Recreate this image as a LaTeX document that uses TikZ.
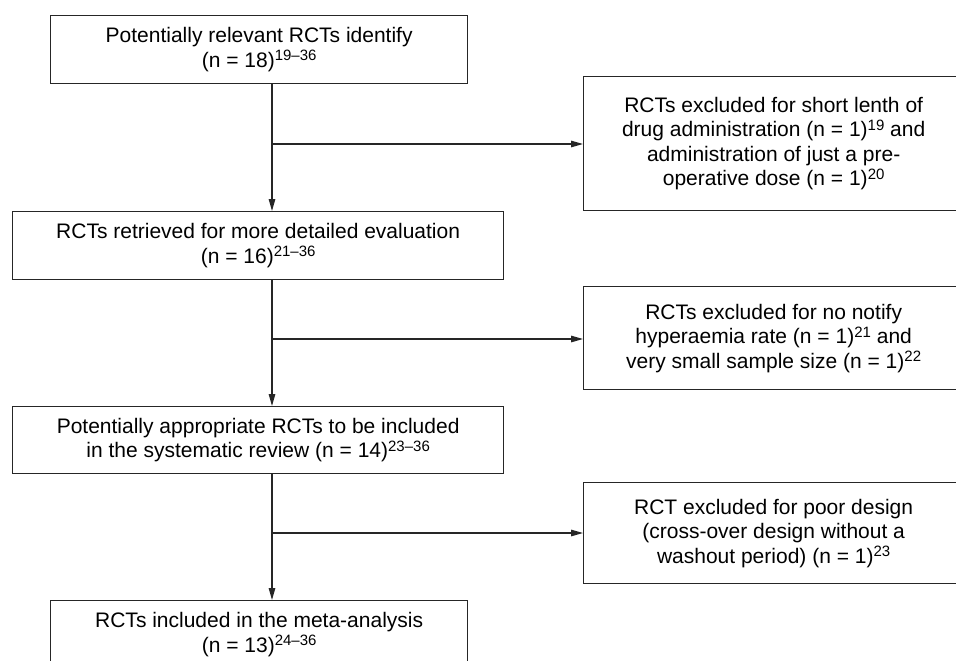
\documentclass[tikz,border=0pt]{standalone}
\usepackage{fontspec}
\setmainfont{Liberation Sans}
\usetikzlibrary{arrows.meta}
\newcommand\supnum[1]{\raisebox{6.5pt}{\fontsize{15}{15}\selectfont #1}}
\begin{document}
\begin{tikzpicture}[x=1pt,y=-1pt,
  box/.style={draw=black!85, line width=1.3pt, rectangle, inner sep=0pt, align=center,
    anchor=north west, font=\fontsize{21}{24.5}\selectfont},
  arr/.style={draw=black!85, line width=1.3pt, -{Triangle[length=12pt,width=6.5pt]}}]
\clip (0,0) rectangle (956,661);
\fill[white] (0,0) rectangle (956,661);
% left column
\node[box, minimum width=417pt, minimum height=68pt] (b1) at (50,15)
  {Potentially relevant RCTs identify\\(n = 18)\supnum{19–36}};
\node[box, minimum width=491pt, minimum height=68pt] (b2) at (12,211)
  {RCTs retrieved for more detailed evaluation\\(n = 16)\supnum{21–36}};
\node[box, minimum width=491pt, minimum height=67pt] (b3) at (12,406)
  {Potentially appropriate RCTs to be included\\in the systematic review (n = 14)\supnum{23–36}};
\node[box, minimum width=417pt, minimum height=68pt] (b4) at (50,600)
  {RCTs included in the meta-analysis\\(n = 13)\supnum{24–36}};
% right column
\node[box, minimum width=380pt, minimum height=134pt] (r1) at (583,76)
  {RCTs excluded for short lenth of\\drug administration (n = 1)\supnum{19} and\\administration of just a pre-\\operative dose (n = 1)\supnum{20}};
\node[box, minimum width=380pt, minimum height=103pt] (r2) at (583,286)
  {RCTs excluded for no notify\\hyperaemia rate (n = 1)\supnum{21} and\\very small sample size (n = 1)\supnum{22}};
\node[box, minimum width=380pt, minimum height=101pt] (r3) at (583,482)
  {RCT excluded for poor design\\(cross-over design without a\\washout period) (n = 1)\supnum{23}};
% junctions on the spine
\coordinate (spine) at (272,0);
\coordinate (j1) at (272,144);
\coordinate (j2) at (272,339);
\coordinate (j3) at (272,533);
% connectors
\draw[arr] (b1.south -| spine) -- (b2.north -| spine);
\draw[arr] (b2.south -| spine) -- (b3.north -| spine);
\draw[arr] (b3.south -| spine) -- (b4.north -| spine);
\draw[arr] (j1) -- (j1 -| r1.west);
\draw[arr] (j2) -- (j2 -| r2.west);
\draw[arr] (j3) -- (j3 -| r3.west);
\end{tikzpicture}
\end{document}
